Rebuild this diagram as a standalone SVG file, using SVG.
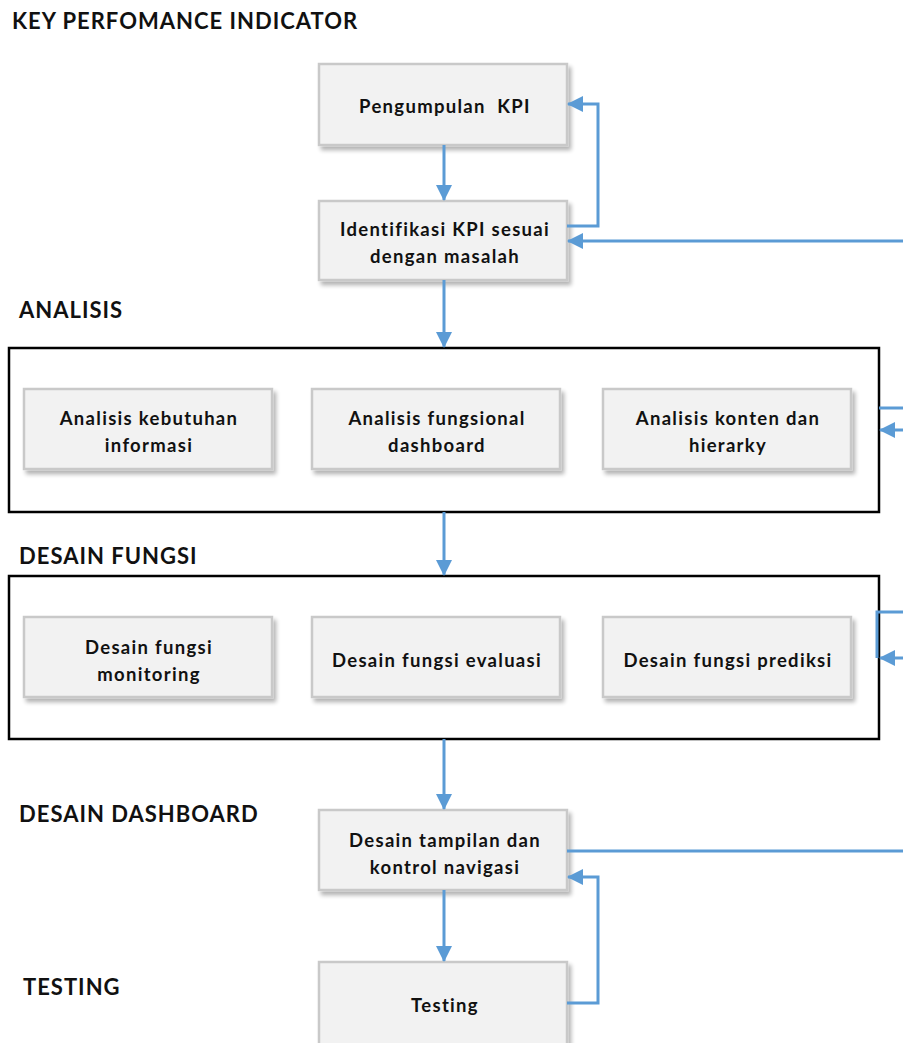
<svg xmlns="http://www.w3.org/2000/svg" width="903" height="1043" viewBox="0 0 903 1043">
<defs>
<marker id="ah" markerWidth="16" markerHeight="16" refX="15" refY="8" orient="auto" markerUnits="userSpaceOnUse">
<path d="M0,0 L16,8 L0,16 Z" fill="#5b9bd5"/>
</marker>
<filter id="sh" x="-10%" y="-10%" width="130%" height="140%">
<feGaussianBlur in="SourceAlpha" stdDeviation="2"/>
<feOffset dx="3" dy="4" result="b"/>
<feComponentTransfer><feFuncA type="linear" slope="0.3"/></feComponentTransfer>
<feMerge><feMergeNode/><feMergeNode in="SourceGraphic"/></feMerge>
</filter>
<style>
.box{fill:#f2f2f2;stroke:#c9c9c9;stroke-width:2.5;filter:url(#sh)}
.grp{fill:none;stroke:#000;stroke-width:2.5}
.t{font-family:Lato,"Open Sans","Liberation Sans",sans-serif;font-weight:bold;font-size:18.5px;letter-spacing:1.3px;fill:#111;text-anchor:middle;font-variant-ligatures:none}
.h{font-family:Lato,"Open Sans","Liberation Sans",sans-serif;font-weight:bold;font-size:22px;letter-spacing:1px;fill:#111}
.c{fill:none;stroke:#5b9bd5;stroke-width:3}
</style>
</defs>
<rect width="903" height="1043" fill="#fff"/>
<g id="headings">
<text class="h" x="12" y="29">KEY PERFOMANCE INDICATOR</text>
<text class="h" x="19" y="318">ANALISIS</text>
<text class="h" x="19" y="564">DESAIN FUNGSI</text>
<text class="h" x="19" y="822">DESAIN DASHBOARD</text>
<text class="h" x="23" y="995">TESTING</text>
</g>
<g id="analisis-group"><rect class="grp" x="9" y="348" width="870" height="164"/></g>
<g id="desain-fungsi-group"><rect class="grp" x="9" y="576" width="870" height="163"/></g>
<g id="n-pengumpulan"><rect class="box" x="319" y="64" width="248" height="81"/><text class="t" x="445" y="113" xml:space="preserve">Pengumpulan  KPI</text></g>
<g id="n-identifikasi"><rect class="box" x="319" y="201" width="248" height="79"/><text class="t" x="445" y="236">Identifikasi KPI sesuai</text><text class="t" x="445" y="263">dengan masalah</text></g>
<g id="n-analisis-kebutuhan"><rect class="box" x="24" y="389" width="248" height="80"/><text class="t" x="149" y="425">Analisis kebutuhan</text><text class="t" x="149" y="452">informasi</text></g>
<g id="n-analisis-fungsional"><rect class="box" x="312" y="389" width="248" height="80"/><text class="t" x="437" y="425">Analisis fungsional</text><text class="t" x="437" y="452">dashboard</text></g>
<g id="n-analisis-konten"><rect class="box" x="603" y="389" width="248" height="80"/><text class="t" x="728" y="425">Analisis konten dan</text><text class="t" x="728" y="452">hierarky</text></g>
<g id="n-desain-monitoring"><rect class="box" x="24" y="617" width="248" height="80"/><text class="t" x="149" y="654">Desain fungsi</text><text class="t" x="149" y="681">monitoring</text></g>
<g id="n-desain-evaluasi"><rect class="box" x="312" y="617" width="248" height="80"/><text class="t" x="437" y="667">Desain fungsi evaluasi</text></g>
<g id="n-desain-prediksi"><rect class="box" x="603" y="617" width="248" height="80"/><text class="t" x="728" y="667">Desain fungsi prediksi</text></g>
<g id="n-desain-tampilan"><rect class="box" x="319" y="810" width="248" height="80"/><text class="t" x="445" y="847">Desain tampilan dan</text><text class="t" x="445" y="874">kontrol navigasi</text></g>
<g id="n-testing"><rect class="box" x="319" y="962" width="248" height="90"/><text class="t" x="445" y="1012">Testing</text></g>
<g id="connectors">
<path class="c" d="M444,145 V200" marker-end="url(#ah)"/>
<path class="c" d="M444,280 V347" marker-end="url(#ah)"/>
<path class="c" d="M444,512 V575" marker-end="url(#ah)"/>
<path class="c" d="M444,739 V809" marker-end="url(#ah)"/>
<path class="c" d="M444,890 V961" marker-end="url(#ah)"/>
<path class="c" d="M567,226 H598 V104 H568" marker-end="url(#ah)"/>
<path class="c" d="M903,241 H568" marker-end="url(#ah)"/>
<path class="c" d="M879,408 H903"/>
<path class="c" d="M903,430 H880" marker-end="url(#ah)"/>
<path class="c" d="M903,612 H877 V658"/>
<path class="c" d="M903,658 H880" marker-end="url(#ah)"/>
<path class="c" d="M567,851 H903"/>
<path class="c" d="M567,1003 H598 V877 H568" marker-end="url(#ah)"/>
</g>
</svg>
